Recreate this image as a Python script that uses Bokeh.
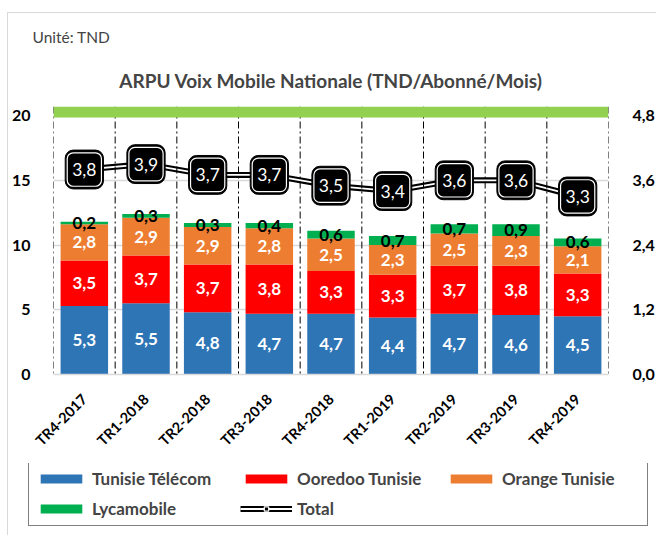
import numpy as np
from bokeh.plotting import figure
from bokeh.models import (FactorRange, Range1d, LinearAxis, FixedTicker, Span, ColumnDataSource,
                          Legend, LegendItem, Title, BoxAnnotation)
from bokeh.core.properties import value
from bokeh.embed import file_html
from bokeh.resources import INLINE

categories = ["TR4-2017", "TR1-2018", "TR2-2018", "TR3-2018", "TR4-2018",
              "TR1-2019", "TR2-2019", "TR3-2019", "TR4-2019"]
tunisie_telecom = [5.3, 5.5, 4.8, 4.7, 4.7, 4.4, 4.7, 4.6, 4.5]
ooredoo_tunisie = [3.5, 3.7, 3.7, 3.8, 3.3, 3.3, 3.7, 3.8, 3.3]
orange_tunisie = [2.8, 2.9, 2.9, 2.8, 2.5, 2.3, 2.5, 2.3, 2.1]
lycamobile = [0.2, 0.3, 0.3, 0.4, 0.6, 0.7, 0.7, 0.9, 0.6]
total = [3.8, 3.9, 3.7, 3.7, 3.5, 3.4, 3.6, 3.6, 3.3]
left_ticks = [0, 5, 10, 15, 20]
right_ticks = [0.0, 1.2, 2.4, 3.6, 4.8]
series_names = ["Tunisie Télécom", "Ooredoo Tunisie", "Orange Tunisie", "Lycamobile"]
series_keys = ["tt", "oo", "orng", "lyca"]
colors = ["#2E75B6", "#FF0000", "#ED7D31", "#00B050"]
label_colors = ["white", "white", "white", "black"]

FONT = "Lato"
Y_TOP = 20.7


def fmt(v):
    return f"{v:.1f}".replace(".", ",")


p = figure(x_range=FactorRange(*categories), y_range=Range1d(0, Y_TOP),
           width=649, height=451, output_backend="svg", toolbar_location=None,
           min_border_left=40, min_border_right=44, min_border_top=93, min_border_bottom=90,
           styles={"margin-left": "7px", "margin-top": "12px",
                   "border-left": "1px solid #d9d9d9", "border-top": "1px solid #d9d9d9"})
p.extra_y_ranges = {"right": Range1d(0, right_ticks[-1] * Y_TOP / left_ticks[-1])}
p.outline_line_color = None

# titles
p.title.text = "Unité: TND"
p.title.align = "left"
p.title.offset = -21
p.title.text_font = FONT
p.title.text_font_size = "15.5px"
p.title.text_font_style = "normal"
p.title.standoff = 12
p.add_layout(Title(text="ARPU Voix Mobile Nationale (TND/Abonné/Mois)", align="center",
                   text_font=FONT, text_font_size="19px", text_font_style="bold",
                   standoff=30), "above")

# vertical separators
for i in range(len(categories) + 1):
    p.add_layout(Span(location=i, dimension="height", line_color="black",
                      line_width=1, line_dash="7 3 2 3"))

# green band at top
p.add_layout(BoxAnnotation(bottom=left_ticks[-1] - 0.15, top=Y_TOP, fill_color="#92D050",
                           fill_alpha=1, line_color=None))

src = ColumnDataSource(dict(cat=categories, tt=tunisie_telecom, oo=ooredoo_tunisie,
                            orng=orange_tunisie, lyca=lycamobile))
bars = p.vbar_stack(series_keys, x="cat", width=0.77, color=colors, line_color=None, source=src)

stack = np.array([tunisie_telecom, ooredoo_tunisie, orange_tunisie, lycamobile])
cum = np.cumsum(stack, axis=0)
mid = cum - stack / 2
for i in range(len(series_keys)):
    p.text(x=categories, y=list(mid[i]), text=[fmt(v) for v in stack[i]],
           text_align="center", text_baseline="middle", text_color=label_colors[i],
           text_font=value(FONT), text_font_style="bold", text_font_size="17px")

# total line
p.line(categories, total, y_range_name="right", line_color="black", line_width=6)
p.line(categories, total, y_range_name="right", line_color="white", line_width=1.8)
half_o, half_i = 0.36, 0.31
p.vbar(x=categories, top=[t + half_o for t in total], bottom=[t - half_o for t in total],
       width=0.62, y_range_name="right", fill_color="black", line_color="black", border_radius=8)
p.vbar(x=categories, top=[t + half_i for t in total], bottom=[t - half_i for t in total],
       width=0.555, y_range_name="right", fill_color="black", line_color="white",
       line_width=1.2, border_radius=6)
p.text(x=categories, y=total, y_range_name="right", text=[fmt(v) for v in total],
       text_align="center", text_baseline="middle", text_color="white",
       text_font=value(FONT), text_font_size="17.5px")

# axes
p.yaxis.ticker = FixedTicker(ticks=left_ticks)
p.yaxis.axis_line_color = None
p.yaxis.major_tick_line_color = None
p.yaxis.minor_tick_line_color = None
p.yaxis.major_label_text_font = FONT
p.yaxis.major_label_text_font_style = "bold"
p.yaxis.major_label_text_font_size = "16px"
p.yaxis.major_label_text_color = "black"
p.yaxis.major_label_standoff = 17

ra = LinearAxis(y_range_name="right", ticker=FixedTicker(ticks=right_ticks),
                major_label_overrides={t: fmt(t) for t in right_ticks})
ra.axis_line_color = None
ra.major_tick_line_color = None
ra.minor_tick_line_color = None
ra.major_label_text_font = FONT
ra.major_label_text_font_style = "bold"
ra.major_label_text_font_size = "16px"
ra.major_label_text_color = "black"
ra.major_label_standoff = 18
p.add_layout(ra, "right")

p.xaxis.major_label_orientation = np.pi / 4
p.xaxis.major_label_text_font = FONT
p.xaxis.major_label_text_font_style = "bold"
p.xaxis.major_label_text_font_size = "14.5px"
p.xaxis.major_label_text_color = "black"
p.xaxis.major_tick_line_color = None
p.xaxis.axis_line_color = "#D9D9D9"
p.xaxis.axis_line_width = 1.5
p.xaxis.major_label_standoff = 16

p.ygrid.ticker = FixedTicker(ticks=left_ticks)
p.ygrid.grid_line_color = "#D9D9D9"
p.ygrid.grid_line_width = 1.5
p.xgrid.grid_line_color = None

# legend in its own strip below the chart (sample glyphs kept outside its visible range)
LEG_H = 72
lf = figure(width=649, height=LEG_H, x_range=Range1d(0, 1), y_range=Range1d(0, 1),
            output_backend="svg", toolbar_location=None, title=None,
            min_border_left=0, min_border_right=0, min_border_top=0, min_border_bottom=0,
            x_axis_location=None, y_axis_location=None,
            styles={"margin-left": "7px", "border-left": "1px solid #d9d9d9"})
lf.outline_line_color = None
lf.grid.visible = False
off_x = [5, 6]
off_y = [5, 5]
sample_bars = [lf.vbar(x=off_x, top=off_y, width=0.5, fill_color=c, line_color=None) for c in colors]
slb = lf.line(off_x, off_y, line_color="black", line_width=6)
slw = lf.line(off_x, off_y, line_color="white", line_width=1.8)
ssq = lf.scatter(off_x, off_y, marker="square", size=15, fill_color="black",
                 line_color="white", line_width=1.2)
items = [LegendItem(label=n, renderers=[r]) for n, r in zip(series_names, sample_bars)]
items.append(LegendItem(label="Total", renderers=[slb, slw, ssq]))
legend = Legend(items=items, location=(20, 9), orientation="horizontal", ncols=3,
                glyph_width=52, glyph_height=11, label_width=139, label_height=17,
                label_standoff=5, spacing=9, padding=6, margin=0,
                label_text_font=FONT, label_text_font_style="bold", label_text_font_size="17px",
                border_line_color="black", border_line_width=1, background_fill_alpha=1)
lf.add_layout(legend, "center")

open("out.html", "w").write(file_html([p, lf], INLINE))
